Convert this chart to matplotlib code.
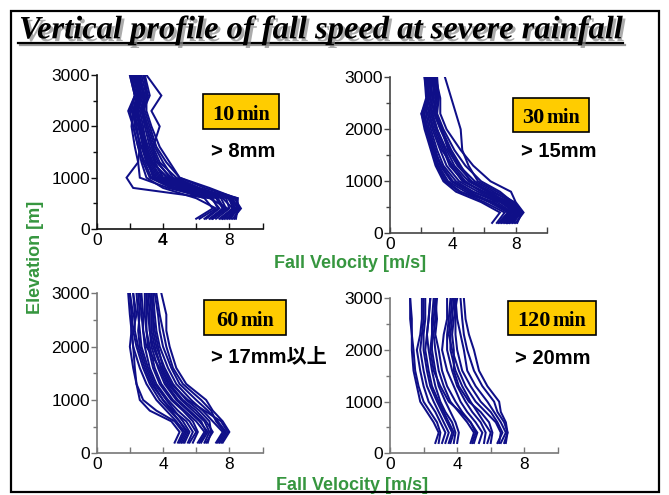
import matplotlib
matplotlib.use('Agg')
import matplotlib.pyplot as plt
from matplotlib.patches import Rectangle
from matplotlib.lines import Line2D
import matplotlib.patheffects as pe

# ---------------- data ----------------
heights = [200, 400, 600, 800, 1000, 1300, 1600, 2000, 2300, 2600, 3000]

speeds_10min = [
    [6.0, 7.0, 6.5, 4.5, 3.2, 2.8, 2.6, 2.4, 2.3, 2.5, 2.2],
    [6.5, 7.3, 7.0, 5.0, 3.5, 3.0, 2.8, 2.6, 2.5, 2.7, 2.4],
    [6.8, 7.6, 7.2, 5.5, 3.8, 3.2, 2.9, 2.7, 2.5, 2.8, 2.6],
    [7.0, 7.8, 7.5, 5.8, 4.2, 3.4, 3.0, 2.8, 2.6, 2.9, 2.5],
    [7.2, 8.0, 7.8, 6.0, 4.5, 3.6, 3.2, 2.9, 2.7, 3.0, 2.7],
    [7.4, 8.2, 8.0, 6.2, 4.8, 3.8, 3.4, 3.0, 2.8, 3.1, 2.8],
    [7.5, 8.3, 8.2, 5.8, 4.0, 3.5, 3.1, 2.7, 2.4, 2.6, 2.3],
    [7.6, 8.4, 8.5, 6.5, 5.0, 4.2, 3.6, 3.2, 2.9, 2.8, 2.6],
    [7.8, 8.5, 8.2, 5.2, 3.6, 3.0, 2.7, 2.3, 2.2, 2.4, 2.1],
    [8.0, 8.6, 8.0, 4.8, 3.3, 2.9, 2.5, 2.2, 2.0, 2.3, 2.0],
    [8.2, 8.7, 8.3, 6.0, 4.4, 3.7, 3.3, 3.0, 2.7, 2.9, 2.6],
    [8.4, 8.5, 8.5, 5.6, 3.9, 3.3, 3.0, 2.6, 2.4, 2.6, 2.4],
    [7.0, 7.9, 6.8, 2.2, 1.8, 2.5, 2.6, 2.4, 2.1, 2.3, 2.0],
    [7.6, 8.2, 7.6, 5.5, 4.0, 3.5, 3.4, 3.8, 3.3, 3.9, 3.0],
    [6.2, 7.2, 6.0, 4.0, 3.0, 2.7, 2.5, 2.2, 1.9, 2.3, 2.1],
    [7.9, 8.6, 8.4, 6.8, 5.0, 4.4, 3.8, 3.3, 3.0, 3.0, 2.9],
    [8.1, 8.4, 7.9, 5.3, 3.7, 3.1, 2.8, 2.5, 2.2, 2.5, 2.2],
    [6.9, 7.7, 7.3, 4.6, 3.4, 3.1, 2.9, 2.6, 2.4, 2.6, 2.3],
    [7.7, 8.3, 8.1, 6.1, 4.6, 4.0, 3.5, 3.1, 2.8, 3.2, 2.9],
    [8.3, 8.6, 8.1, 5.9, 4.3, 3.3, 2.9, 2.6, 2.3, 2.7, 2.5],
    [6.6, 7.4, 6.9, 4.3, 2.6, 2.5, 2.3, 2.1, 2.2, 2.5, 2.3],
]

speeds_30min = [
    [6.5, 7.0, 5.8, 4.2, 3.4, 2.9, 2.6, 2.2, 2.0, 2.3, 2.2],
    [6.8, 7.3, 6.0, 4.5, 3.6, 3.0, 2.7, 2.3, 2.1, 2.4, 2.3],
    [7.0, 7.6, 6.5, 5.0, 3.9, 3.2, 2.9, 2.5, 2.3, 2.5, 2.4],
    [7.2, 7.8, 6.8, 5.3, 4.2, 3.4, 3.0, 2.6, 2.4, 2.6, 2.5],
    [7.4, 8.0, 7.0, 5.6, 4.4, 3.6, 3.2, 2.7, 2.5, 2.7, 2.6],
    [7.5, 8.1, 7.3, 5.9, 4.7, 3.8, 3.4, 2.9, 2.6, 2.8, 2.7],
    [7.6, 8.2, 7.5, 6.2, 5.0, 4.1, 3.6, 3.0, 2.7, 2.9, 2.8],
    [7.7, 8.3, 7.7, 6.6, 5.4, 4.4, 3.8, 3.2, 2.8, 3.0, 2.9],
    [7.8, 8.4, 7.8, 7.0, 5.8, 4.8, 4.1, 3.4, 3.0, 3.1, 3.0],
    [8.0, 8.5, 8.0, 7.7, 6.4, 5.3, 4.5, 3.6, 3.2, 3.2, 2.9],
    [7.5, 8.3, 7.9, 6.8, 5.6, 5.0, 4.6, 4.5, 4.2, 3.9, 3.5],
    [6.9, 7.5, 6.3, 4.8, 3.7, 3.1, 2.8, 2.4, 2.1, 2.4, 2.3],
    [7.3, 7.9, 7.1, 5.2, 4.0, 3.3, 2.8, 2.4, 2.2, 2.5, 2.4],
    [7.9, 8.2, 7.6, 6.0, 4.6, 3.9, 3.5, 3.0, 2.7, 3.0, 2.6],
    [8.1, 8.4, 7.9, 6.4, 5.2, 4.3, 3.7, 3.3, 2.9, 3.1, 2.8],
    [7.1, 7.7, 6.6, 4.4, 3.5, 3.0, 2.7, 2.3, 2.0, 2.4, 2.2],
    [7.6, 8.0, 7.2, 5.8, 4.8, 4.0, 3.3, 2.8, 2.5, 2.7, 2.5],
    [7.4, 8.1, 7.4, 6.3, 5.1, 4.5, 3.9, 3.3, 2.9, 2.9, 2.7],
]

speeds_60min = [
    [4.9, 5.2, 4.7, 3.6, 2.8, 2.4, 2.3, 2.2, 2.1, 2.1, 2.0],
    [5.0, 5.3, 4.8, 4.2, 3.6, 3.0, 2.6, 2.2, 2.1, 2.2, 2.0],
    [5.2, 5.5, 5.0, 4.5, 4.0, 3.3, 2.9, 2.5, 2.3, 2.3, 2.2],
    [5.3, 5.6, 5.2, 4.7, 4.2, 3.5, 3.1, 2.7, 2.6, 2.5, 2.4],
    [5.6, 6.0, 5.6, 4.9, 4.3, 3.6, 3.2, 2.9, 2.8, 2.8, 2.7],
    [5.8, 6.1, 5.8, 5.2, 4.5, 3.8, 3.4, 3.1, 3.0, 2.9, 2.9],
    [6.1, 6.5, 6.0, 5.3, 4.6, 3.9, 3.5, 3.2, 3.0, 3.0, 3.0],
    [6.3, 6.7, 6.2, 5.5, 4.8, 4.1, 3.7, 3.3, 3.2, 3.2, 3.1],
    [6.5, 6.8, 6.5, 5.8, 5.1, 4.3, 3.9, 3.5, 3.3, 3.3, 3.2],
    [6.7, 6.9, 6.8, 6.2, 5.4, 4.6, 4.1, 3.6, 3.4, 3.4, 3.3],
    [7.2, 7.6, 7.0, 6.4, 5.7, 4.8, 4.3, 3.8, 3.6, 3.5, 3.4],
    [7.4, 7.8, 7.3, 6.7, 6.0, 5.0, 4.5, 4.0, 3.8, 3.7, 3.5],
    [7.6, 8.0, 7.6, 7.0, 6.6, 5.4, 4.8, 4.4, 4.2, 4.2, 3.9],
    [7.3, 7.7, 7.2, 6.9, 6.3, 5.2, 4.6, 4.2, 4.0, 3.8, 3.6],
    [6.2, 6.6, 6.3, 5.6, 4.9, 4.2, 3.8, 3.0, 2.8, 2.7, 2.6],
    [5.1, 5.4, 5.0, 4.4, 3.8, 3.2, 2.8, 2.4, 2.2, 2.4, 2.2],
    [5.5, 5.8, 5.4, 4.6, 4.0, 3.4, 3.0, 2.6, 2.5, 2.6, 2.5],
    [6.6, 7.0, 6.6, 6.0, 5.2, 4.4, 3.9, 3.4, 3.2, 3.1, 3.0],
    [7.5, 7.9, 7.5, 6.5, 5.5, 4.5, 4.0, 3.7, 3.5, 3.4, 3.3],
    [4.7, 5.0, 4.5, 3.2, 2.6, 2.4, 2.2, 2.0, 2.1, 2.0, 1.9],
]

speeds_120min = [
    [2.7, 2.9, 2.6, 2.2, 1.8, 1.6, 1.4, 1.3, 1.3, 1.2, 1.2],
    [2.9, 3.0, 2.8, 2.4, 2.0, 1.7, 1.5, 1.4, 1.3, 1.3, 1.2],
    [3.1, 3.3, 3.0, 2.7, 2.3, 2.0, 1.8, 1.6, 1.8, 1.9, 1.9],
    [3.3, 3.5, 3.2, 2.9, 2.6, 2.2, 2.0, 1.8, 1.9, 2.0, 2.0],
    [3.5, 3.7, 3.4, 3.1, 2.8, 2.4, 2.2, 2.0, 2.0, 2.1, 2.1],
    [3.8, 3.9, 3.7, 3.3, 3.0, 2.7, 2.5, 2.3, 2.2, 2.3, 2.4],
    [4.0, 4.1, 3.9, 3.6, 3.3, 2.9, 2.7, 2.5, 2.5, 2.5, 2.6],
    [4.8, 5.0, 4.6, 4.1, 3.6, 3.2, 2.9, 2.7, 2.6, 2.7, 2.8],
    [5.0, 5.2, 4.8, 4.3, 3.9, 3.4, 3.1, 2.9, 2.7, 2.8, 2.7],
    [5.3, 5.5, 5.1, 4.6, 4.2, 3.8, 3.4, 3.1, 3.2, 3.4, 3.4],
    [5.6, 5.7, 5.4, 4.9, 4.5, 4.0, 3.7, 3.4, 3.4, 3.5, 3.6],
    [5.8, 6.0, 5.6, 5.2, 4.8, 4.3, 3.9, 3.6, 3.6, 3.7, 3.8],
    [6.0, 6.1, 5.9, 5.4, 4.7, 4.1, 3.8, 3.8, 3.7, 3.8, 4.0],
    [6.4, 6.7, 6.4, 6.0, 5.4, 4.8, 4.3, 4.0, 3.9, 3.9, 3.8],
    [6.6, 6.9, 6.6, 6.2, 5.8, 5.1, 4.6, 4.4, 4.2, 4.0, 3.9],
    [6.8, 7.0, 6.8, 6.4, 6.2, 5.5, 5.0, 4.6, 4.4, 4.3, 4.2],
    [6.9, 7.0, 6.9, 6.6, 6.5, 5.8, 5.3, 5.0, 4.7, 4.5, 4.4],
    [4.9, 5.1, 4.8, 4.2, 3.5, 3.0, 2.6, 2.4, 2.5, 2.6, 2.7],
    [3.6, 3.8, 3.5, 3.2, 2.9, 2.5, 2.3, 2.1, 2.2, 2.3, 2.4],
    [6.5, 6.6, 6.3, 5.7, 5.1, 4.5, 4.1, 3.7, 3.5, 3.6, 3.7],
]

duration_nums = ["10", "30", "60", "120"]
duration_unit = "min"
thresholds = ["> 8mm", "> 15mm", "> 17mm以上", "> 20mm"]
x_ticks = [0, 4, 8]
y_ticks = [0, 1000, 2000, 3000]
title = "Vertical profile of fall speed at severe rainfall"
xlabel = "Fall Velocity [m/s]"
ylabel = "Elevation [m]"

# ---------------- layout ----------------
W, H = 669, 495
fig = plt.figure(figsize=(W / 100, H / 100), dpi=100)
fig.patch.set_facecolor('white')


def fx(x):
    return x / W


def fy(y):
    return 1 - y / H


LINE_C = '#0f0f88'
GREEN = '#36963f'
SANS = ['Liberation Sans', 'Noto Sans CJK JP', 'DejaVu Sans']
SERIF = ['Liberation Serif', 'DejaVu Serif']

panels = [
    # x0, x1, ytop, ybot, spine colour
    (96.7, 262.5, 75.0, 229.0, '#111111'),
    (390.0, 547.1, 77.3, 233.3, '#444444'),
    (96.7, 262.5, 293.3, 453.3, '#777777'),
    (390.0, 557.9, 298.3, 453.3, '#777777'),
]
data_sets = [speeds_10min, speeds_30min, speeds_60min, speeds_120min]

axes = []
for (x0, x1, yt, yb, sc), data in zip(panels, data_sets):
    ax = fig.add_axes([fx(x0), fy(yb), (x1 - x0) / W, (yb - yt) / H])
    for prof in data:
        ax.plot(prof, heights, color=LINE_C, lw=1.45, solid_joinstyle='miter')
    ax.set_xlim(0, 10)
    ax.set_ylim(0, 3000)
    ax.patch.set_alpha(0)
    for s in ('top', 'right'):
        ax.spines[s].set_visible(False)
    for s in ('left', 'bottom'):
        ax.spines[s].set_color(sc)
        ax.spines[s].set_linewidth(1.2)
    ax.set_xticks(x_ticks)
    ax.set_xticks([2, 6, 10], minor=True)
    ax.set_yticks(y_ticks)
    ax.set_yticks([500, 1500, 2500], minor=True)
    ax.tick_params(axis='x', which='both', direction='in', length=4, width=1,
                   color=sc, pad=3)
    ax.tick_params(axis='y', which='major', direction='out', length=4, width=1,
                   color=sc, pad=1)
    ax.tick_params(axis='y', which='minor', direction='out', length=3, width=1,
                   color=sc)
    for lab in ax.get_xticklabels() + ax.get_yticklabels():
        lab.set_fontfamily(SANS)
        lab.set_fontsize(12.5)
        lab.set_color('black')
    axes.append(ax)

# bold "4" on first panel
for lab in axes[0].get_xticklabels():
    if lab.get_text() == '4':
        lab.set_fontweight('bold')

# duration boxes
boxes = [
    (203, 279, 94, 129),
    (513, 589, 98, 132),
    (204, 286, 300, 335),
    (508, 596, 301, 335),
]
fig.canvas.draw()
renderer = fig.canvas.get_renderer()
for (bx0, bx1, by0, by1), num in zip(boxes, duration_nums):
    fig.patches.append(Rectangle((fx(bx0), fy(by1)), (bx1 - bx0) / W,
                                 (by1 - by0) / H, transform=fig.transFigure,
                                 facecolor='#ffcc00', edgecolor='black',
                                 lw=1.2, zorder=5))
    base = (by0 + by1) / 2 + 8.0
    tn = fig.text(0, fy(base), num, family=SERIF, fontweight='bold',
                  fontsize=16, ha='left', va='baseline', zorder=6)
    tu = fig.text(0, fy(base), duration_unit, family=SERIF,
                  fontweight='bold', fontsize=14.5, ha='left',
                  va='baseline', zorder=6)
    wn = tn.get_window_extent(renderer).width
    wu = tu.get_window_extent(renderer).width
    total = wn + 1.5 + wu
    start = (bx0 + bx1) / 2 - total / 2
    tn.set_x(fx(start))
    tu.set_x(fx(start + wn + 1.5))

thr_pos = [(211, 156.7), (521, 156.7), (211, 362.5), (515, 363.5)]
for (tx, ty), lab in zip(thr_pos, thresholds):
    fig.text(fx(tx), fy(ty), lab, family=SANS, fontweight='bold',
             fontsize=14.5, ha='left', va='baseline')

# axis labels
fig.text(fx(35), fy(257), ylabel, rotation=90, color=GREEN, family=SANS,
         fontweight='bold', fontsize=13, ha='center', va='center')
fig.text(fx(350), fy(263), xlabel, color=GREEN, family=SANS,
         fontweight='bold', fontsize=13, ha='center', va='center')
fig.text(fx(352), fy(486), xlabel, color=GREEN, family=SANS,
         fontweight='bold', fontsize=13, ha='center', va='center')

# title with shadow and underline
t = fig.text(fx(19), fy(38.3), title, family=SERIF, style='italic',
             fontweight='bold', fontsize=23.4, ha='left', va='baseline',
             path_effects=[pe.SimplePatchShadow(offset=(2, -2),
                                                shadow_rgbFace='#888888',
                                                alpha=0.7),
                           pe.Normal()])
bb = t.get_window_extent(renderer)
ux0, ux1 = bb.x0 / W - 1 / W, bb.x1 / W + 1 / W
fig.lines.append(Line2D([ux0 + 2 / W, ux1 + 2 / W], [fy(45.3), fy(45.3)],
                        transform=fig.transFigure, color='#999999', lw=1.6))
fig.lines.append(Line2D([ux0, ux1], [fy(43.3), fy(43.3)],
                        transform=fig.transFigure, color='black', lw=1.6))

# slide frame
fig.patches.append(Rectangle((fx(11), fy(492)), (659 - 11) / W, (492 - 10.5) / H,
                             transform=fig.transFigure, facecolor='none',
                             edgecolor='black', lw=1.6, zorder=10))

fig.savefig('out.png', dpi=100)
